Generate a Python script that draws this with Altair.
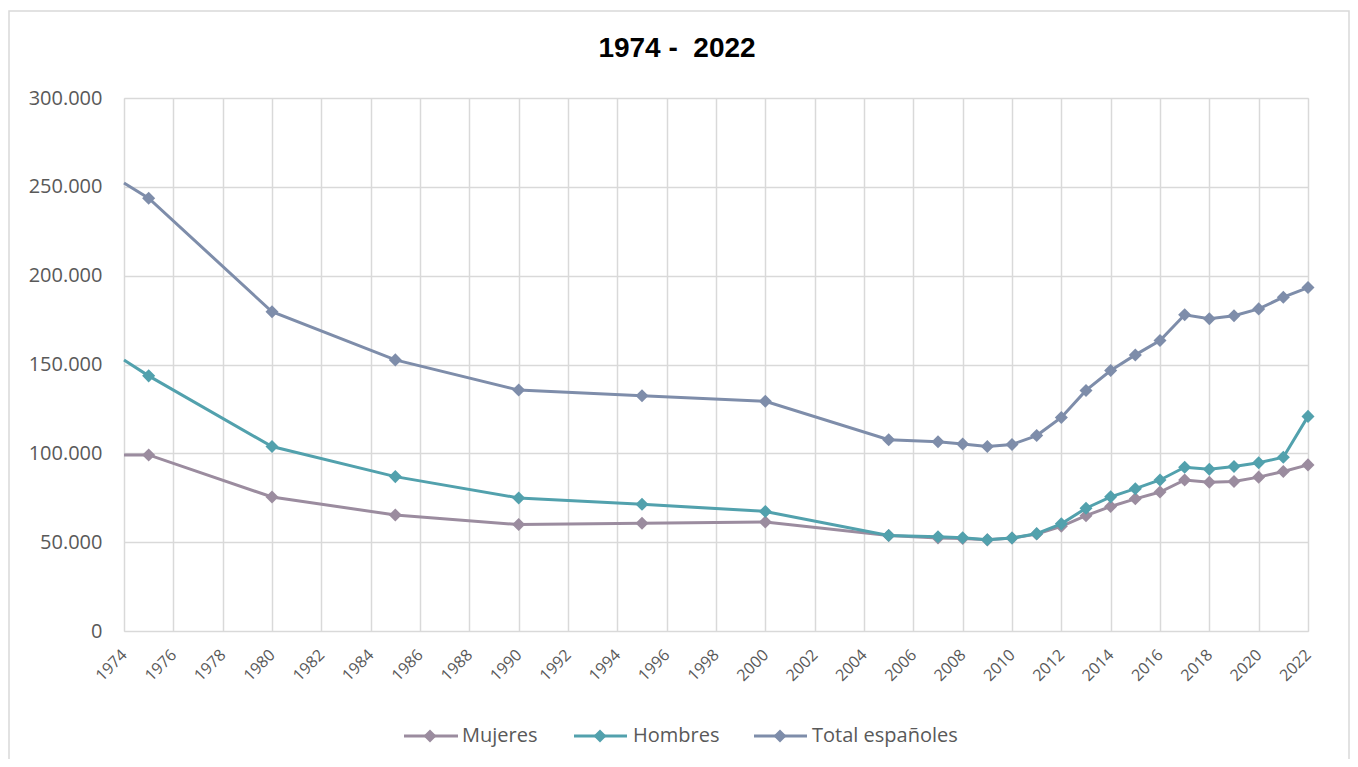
import altair as alt
import pandas as pd

years = [1974, 1975, 1980, 1985, 1990, 1995, 2000, 2005, 2007, 2008, 2009, 2010,
         2011, 2012, 2013, 2014, 2015, 2016, 2017, 2018, 2019, 2020, 2021, 2022]

mujeres = [99100, 99100, 75400, 65300, 59900, 60600, 61300, 53700, 52400, 52100, 51300, 52300,
           54600, 58900, 64900, 70100, 74400, 78200, 85000, 83700, 84200, 86600, 89800, 93500]

hombres = [152500, 143600, 103800, 86900, 74900, 71300, 67300, 53700, 53000, 52500, 51400, 52300,
           54800, 60300, 69100, 75500, 80100, 85000, 92200, 91100, 92600, 94700, 97800, 120800]

total = [252200, 243600, 179700, 152600, 135600, 132400, 129300, 107700, 106500, 105300, 103800, 105000,
         110000, 120200, 135400, 146600, 155400, 163500, 178000, 175800, 177400, 181300, 187900, 193300]

series_names = ["Mujeres", "Hombres", "Total españoles"]
series_values = [mujeres, hombres, total]
series_colors = ["#9B8C9F", "#52A1AD", "#7E8DAA"]

title_text = "1974 -\u00a0 2022"
x_ticks = list(range(1974, 2023, 2))
y_ticks = [0, 50000, 100000, 150000, 200000, 250000, 300000]

rows = []
for name, vals in zip(series_names, series_values):
    for yr, v in zip(years, vals):
        rows.append({"year": yr, "value": v, "serie": name})
df = pd.DataFrame(rows)
legend_df = pd.DataFrame({"serie": series_names})

FONT = "Open Sans"
W, H = 1184, 533

x_enc = alt.X("year:Q", scale=alt.Scale(domain=[1974, 2022], nice=False, zero=False),
              axis=alt.Axis(values=x_ticks, format="d", labelAngle=-45, labelAlign="right",
                            labelBaseline="middle", labelPadding=21, ticks=False, tickSize=0,
                            domain=False, grid=True, gridColor="#D9D9D9", gridWidth=1.5,
                            labelFont=FONT, labelFontSize=16, labelColor="#595959",
                            title=None, labelOverlap=False))
y_enc = alt.Y("value:Q", scale=alt.Scale(domain=[0, 300000], nice=False),
              axis=alt.Axis(values=y_ticks, labelExpr="replace(format(datum.value, ','), /,/g, '.')",
                            ticks=False, tickSize=0, domain=False, grid=True, gridColor="#D9D9D9",
                            gridWidth=1.5, labelFont=FONT, labelFontSize=20, labelColor="#595959",
                            labelPadding=22, title=None))

border = alt.Chart(legend_df.head(1)).mark_rect(fill="white", fillOpacity=0, stroke="#D9D9D9",
                                                  strokeWidth=1.5).encode(
    x=alt.value(-115), x2=alt.value(1225), y=alt.value(-87), y2=alt.value(720))

layers = [border]
for name, color in zip(series_names, series_colors):
    sub = alt.Chart(df).transform_filter(alt.datum.serie == name)
    layers.append(sub.mark_line(strokeWidth=3, color=color).encode(x=x_enc, y=y_enc))
    layers.append(sub.transform_filter(alt.datum.year > 1974).mark_point(
        shape="diamond", filled=True, size=170, opacity=1, color=color).encode(x=x_enc, y=y_enc))

title = alt.Chart(legend_df.head(1)).mark_text(
    text=title_text, font="Liberation Sans", fontWeight="bold", fontSize=28,
    color="#000000", align="center", baseline="alphabetic").encode(
    x=alt.value(553), y=alt.value(-41))
layers.append(title)

leg_pos = [(280, 334, 306, 338), (450, 503, 476, 509), (630, 683, 656, 688)]
LY = 638
for name, color, (x1, x2, xd, xt) in zip(series_names, series_colors, leg_pos):
    ld = alt.Chart(legend_df).transform_filter(alt.datum.serie == name)
    layers.append(ld.mark_rule(strokeWidth=3, color=color).encode(
        x=alt.value(x1), x2=alt.value(x2), y=alt.value(LY)))
    layers.append(ld.mark_point(shape="diamond", filled=True, size=170, opacity=1, color=color).encode(
        x=alt.value(xd), y=alt.value(LY)))
    layers.append(ld.mark_text(align="left", baseline="middle", font=FONT, fontSize=20,
                               color="#595959").encode(
        x=alt.value(xt), y=alt.value(LY), text="serie:N"))

chart = alt.layer(*layers).properties(
    width=W, height=H,
    autosize=alt.AutoSizeParams(type="none"),
    padding={"left": 116, "top": 90, "right": 42, "bottom": 128},
).configure_view(stroke=None).configure(background="white")

chart.save("out.html", embed_options={"renderer": "svg", "actions": False})
